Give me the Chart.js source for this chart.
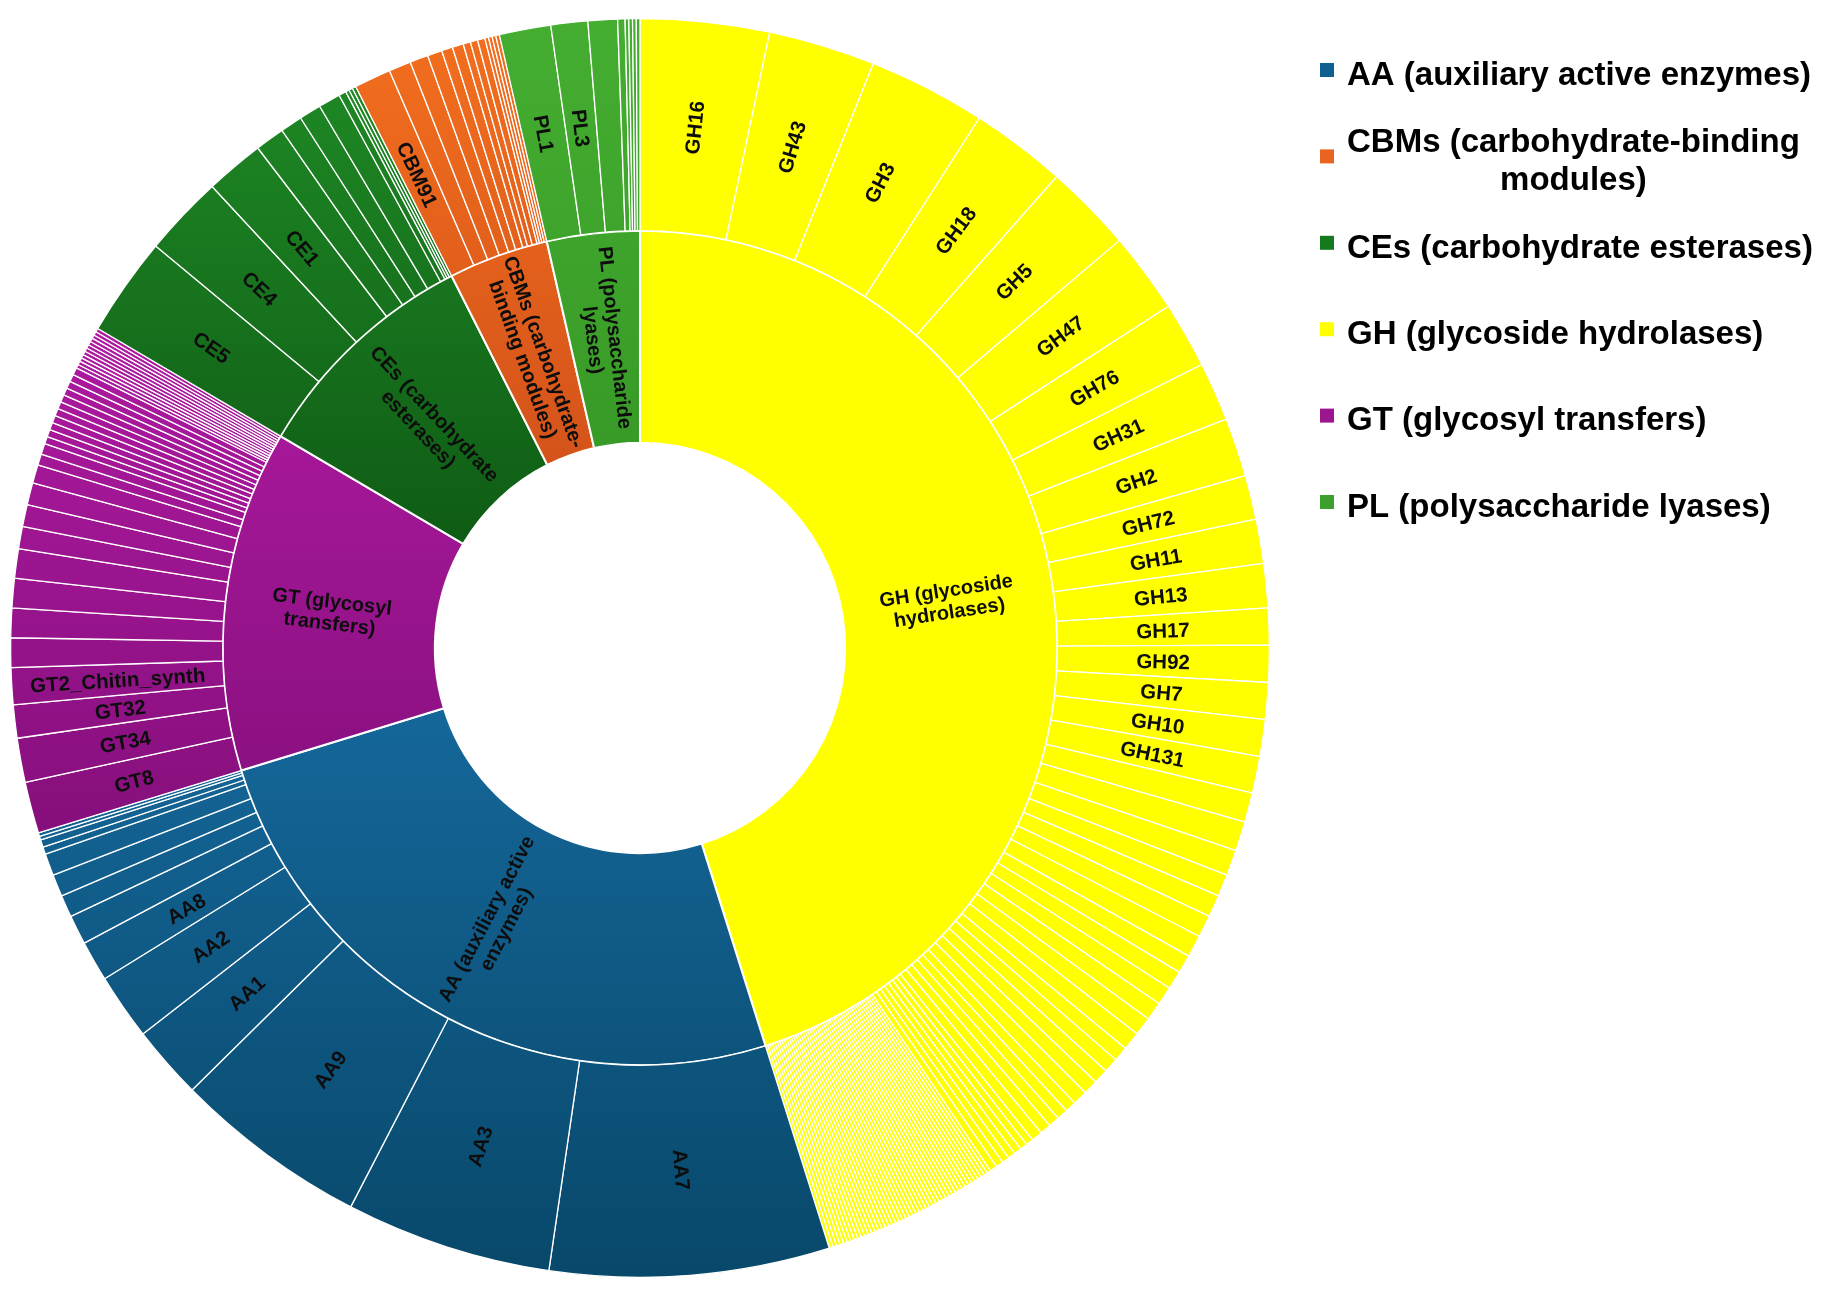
<!DOCTYPE html>
<html>
<head>
<meta charset="utf-8">
<title>CAZyme sunburst</title>
<script src="https://cdn.jsdelivr.net/npm/chart.js@4.4.1/dist/chart.umd.min.js"></script>
<style>
  html, body { margin: 0; padding: 0; background: #ffffff; }
  #wrap { position: relative; width: 1831px; height: 1307px; }
</style>
</head>
<body>
<div id="wrap"><canvas id="sunburst"></canvas></div>
<script>
// CAZyme classes (inner ring), clockwise from 12 o'clock
const familyCodes = ['GH', 'AA', 'GT', 'CE', 'CBM', 'PL'];
const familyNames = [
  'GH (glycoside hydrolases)',
  'AA (auxiliary active enzymes)',
  'GT (glycosyl transfers)',
  'CEs (carbohydrate esterases)',
  'CBMs (carbohydrate-binding modules)',
  'PL (polysaccharide lyases)'
];
// how the class names are broken inside the inner ring
const familyRingLines = [
  ['GH (glycoside', 'hydrolases)'],
  ['AA (auxiliary active', 'enzymes)'],
  ['GT (glycosyl', 'transfers)'],
  ['CEs (carbohydrate', 'esterases)'],
  ['CBMs (carbohydrate-', 'binding modules)'],
  ['PL (polysaccharide', 'lyases)']
];

// outer ring: family names (only the printed ones) and gene counts, clockwise
const ghNames = ['GH16', 'GH43', 'GH3', 'GH18', 'GH5', 'GH47', 'GH76', 'GH31', 'GH2',
  'GH72', 'GH11', 'GH13', 'GH17', 'GH92', 'GH7', 'GH10', 'GH131'];
const ghCounts = [35, 29, 32, 26, 24, 22, 18, 16, 16, 12, 12, 12, 10, 10, 10, 10, 10,
  8, 8, 7, 6, 6, 6, 6, 5, 5, 5, 5, 5, 5, 4, 4, 4, 4, 4, 3, 3, 3, 3, 3,
  2, 2, 2, 2, 2, 2, 2,
  1, 1, 1, 1, 1, 1, 1, 1, 1, 1, 1, 1, 1, 1, 1, 1, 1, 1, 1, 1, 1, 1, 1, 1,
  1, 1, 1, 1, 1, 1, 1, 1, 1, 1, 1, 1, 1, 1, 1, 1, 1, 1, 1, 1, 1, 1, 1, 1];

const aaNames = ['AA7', 'AA3', 'AA9', 'AA1', 'AA2', 'AA8'];
const aaCounts = [76, 56, 53, 20, 18, 11, 8, 6, 6, 6, 2, 2, 1, 1];

const gtNames = ['GT8', 'GT34', 'GT32', 'GT2_Chitin_synth'];
const gtCounts = [14, 12, 9, 10, 8, 8, 8, 8, 6, 6, 6, 5, 3, 3,
  2, 2, 2, 2, 2, 2, 2, 2, 2, 2, 2,
  1, 1, 1, 1, 1, 1, 1, 1, 1, 1, 1, 1];

const ceNames = ['CE5', 'CE4', 'CE1'];
const ceCounts = [27, 22, 16, 8, 6, 6, 6, 2, 1, 1, 1];

const cbmNames = ['CBM91'];
const cbmCounts = [10, 6, 5, 4, 3, 3, 2, 2, 2, 1, 1, 1, 1];

const plNames = ['PL1', 'PL3'];
const plCounts = [14, 10, 8, 2, 1, 1, 1, 1];

const subNames = [ghNames, aaNames, gtNames, ceNames, cbmNames, plNames];
const subCounts = [ghCounts, aaCounts, gtCounts, ceCounts, cbmCounts, plCounts];

// styles
const FONT = "'Liberation Sans', Arial, Helvetica, sans-serif";
const CUTOUT = 0.326;
const SHADES = [
  ['#ffff00', '#ffff00'],   // GH
  ['#15679a', '#08486a'],   // AA
  ['#ae1aa1', '#860f7c'],   // GT
  ['#1e8724', '#0f5c15'],   // CE
  ['#f26e1e', '#d4531a'],   // CBM
  ['#45ae31', '#389a27']    // PL
];
const LEGEND_COLORS = ['#ffff00', '#0f6090', '#9c168f', '#157a1c', '#e86420', '#3ea02c'];

// flatten the outer ring
const outerLabels = [];
const outerValues = [];
const outerFamily = [];
subCounts.forEach((counts, f) => {
  counts.forEach((v, i) => {
    outerLabels.push(subNames[f][i] || '');
    outerValues.push(v);
    outerFamily.push(f);
  });
});
const familyTotals = subCounts.map(c => c.reduce((a, b) => a + b, 0));
const grandTotal = familyTotals.reduce((a, b) => a + b, 0);

// vertical shading of a class, spread over the height of its wedge
const fillCache = {};
function familyFill(chart, f) {
  const area = chart.chartArea;
  if (!area) return SHADES[f][0];
  const key = f + ':' + area.top + ':' + area.bottom + ':' + area.left;
  if (fillCache[key]) return fillCache[key];
  const cy = (area.top + area.bottom) / 2;
  const rOut = Math.min(area.width, area.height) / 2;
  const rIn = rOut * CUTOUT;
  let before = 0;
  for (let k = 0; k < f; k++) before += familyTotals[k];
  const t0 = before / grandTotal * Math.PI * 2;
  const t1 = (before + familyTotals[f]) / grandTotal * Math.PI * 2;
  let minY = Infinity, maxY = -Infinity;
  for (let k = 0; k <= 90; k++) {
    const t = t0 + (t1 - t0) * k / 90;
    [rIn, rOut].forEach(r => {
      const y = cy - r * Math.cos(t);
      minY = Math.min(minY, y);
      maxY = Math.max(maxY, y);
    });
  }
  const g = chart.ctx.createLinearGradient(0, minY, 0, maxY);
  g.addColorStop(0, SHADES[f][0]);
  g.addColorStop(1, SHADES[f][1]);
  fillCache[key] = g;
  return g;
}

// text on the slices, turned along the radius
const sliceLabels = {
  id: 'sliceLabels',
  afterDatasetsDraw(chart) {
    const ctx = chart.ctx;
    ctx.save();
    ctx.fillStyle = '#0d0d0d';
    ctx.textAlign = 'center';
    ctx.textBaseline = 'alphabetic';
    chart.data.datasets.forEach((ds, di) => {
      const meta = chart.getDatasetMeta(di);
      ctx.font = 'bold ' + ds.fontSize + 'px ' + FONT;
      meta.data.forEach((arc, i) => {
        const lines = ds.labelLines[i];
        if (!lines || !lines.length) return;
        const p = arc.getProps(['x', 'y', 'startAngle', 'endAngle', 'innerRadius', 'outerRadius'], true);
        const a = (p.startAngle + p.endAngle) / 2;
        const r = (p.innerRadius + p.outerRadius) / 2;
        const rot = a > Math.PI / 2 ? a - Math.PI : a;
        ctx.save();
        ctx.translate(p.x + r * Math.cos(a), p.y + r * Math.sin(a));
        ctx.rotate(rot);
        lines.forEach((line, j) => {
          const dy = (j - (lines.length - 1) / 2) * ds.lineHeight;
          ctx.fillText(line, 0, dy + ds.fontSize * 0.36);
        });
        ctx.restore();
      });
    });
    ctx.restore();
  }
};

function wrapWords(ctx, text, maxWidth) {
  const words = text.split(' ');
  const lines = [];
  let cur = '';
  words.forEach(w => {
    const test = cur ? cur + ' ' + w : w;
    if (cur && ctx.measureText(test).width > maxWidth) {
      lines.push(cur);
      cur = w;
    } else {
      cur = test;
    }
  });
  if (cur) lines.push(cur);
  return lines;
}

// legend on the right, in alphabetical order
const legendBox = {
  id: 'legendBox',
  afterDraw(chart, args, opts) {
    const ctx = chart.ctx;
    ctx.save();
    ctx.font = 'bold ' + opts.fontSize + 'px ' + FONT;
    ctx.textAlign = 'left';
    ctx.textBaseline = 'alphabetic';
    const order = familyNames.map((n, i) => i).sort((a, b) => familyNames[a].localeCompare(familyNames[b]));
    order.forEach((f, k) => {
      const yc = opts.top + k * opts.step;
      const lines = wrapWords(ctx, familyNames[f], opts.maxWidth);
      const blockW = Math.max(...lines.map(l => ctx.measureText(l).width));
      ctx.fillStyle = LEGEND_COLORS[f];
      ctx.fillRect(opts.x, yc - 3 - opts.box / 2, opts.box, opts.box);
      ctx.fillStyle = '#000000';
      lines.forEach((l, j) => {
        const w = ctx.measureText(l).width;
        const y = yc + (j - (lines.length - 1) / 2) * opts.lineHeight;
        ctx.fillText(l, opts.textX + (blockW - w) / 2, y + opts.fontSize * 0.36);
      });
    });
    ctx.restore();
  }
};

const ctx = document.getElementById('sunburst').getContext('2d');
new Chart(ctx, {
  type: 'doughnut',
  data: {
    labels: outerLabels,
    datasets: [
      {
        label: 'Families',
        data: outerValues,
        backgroundColor: c => familyFill(c.chart, outerFamily[c.dataIndex]),
        borderColor: '#ffffff',
        borderWidth: 1.3,
        labelLines: outerLabels.map(s => (s ? [s] : [])),
        fontSize: 20.5,
        lineHeight: 22
      },
      {
        label: 'Classes',
        data: familyTotals,
        backgroundColor: c => familyFill(c.chart, c.dataIndex),
        borderColor: '#ffffff',
        borderWidth: 2,
        labelLines: familyRingLines,
        fontSize: 20,
        lineHeight: 22
      }
    ]
  },
  options: {
    responsive: true,
    maintainAspectRatio: false,
    animation: false,
    events: [],
    cutout: (CUTOUT * 100) + '%',
    layout: { padding: { left: 10, top: 18, right: 561, bottom: 29 } },
    plugins: {
      legend: { display: false },
      tooltip: { enabled: false },
      legendBox: { x: 1320, textX: 1347, top: 73, step: 86.4, box: 14, fontSize: 33, lineHeight: 38, maxWidth: 482 }
    }
  },
  plugins: [sliceLabels, legendBox]
});
</script>
</body>
</html>
